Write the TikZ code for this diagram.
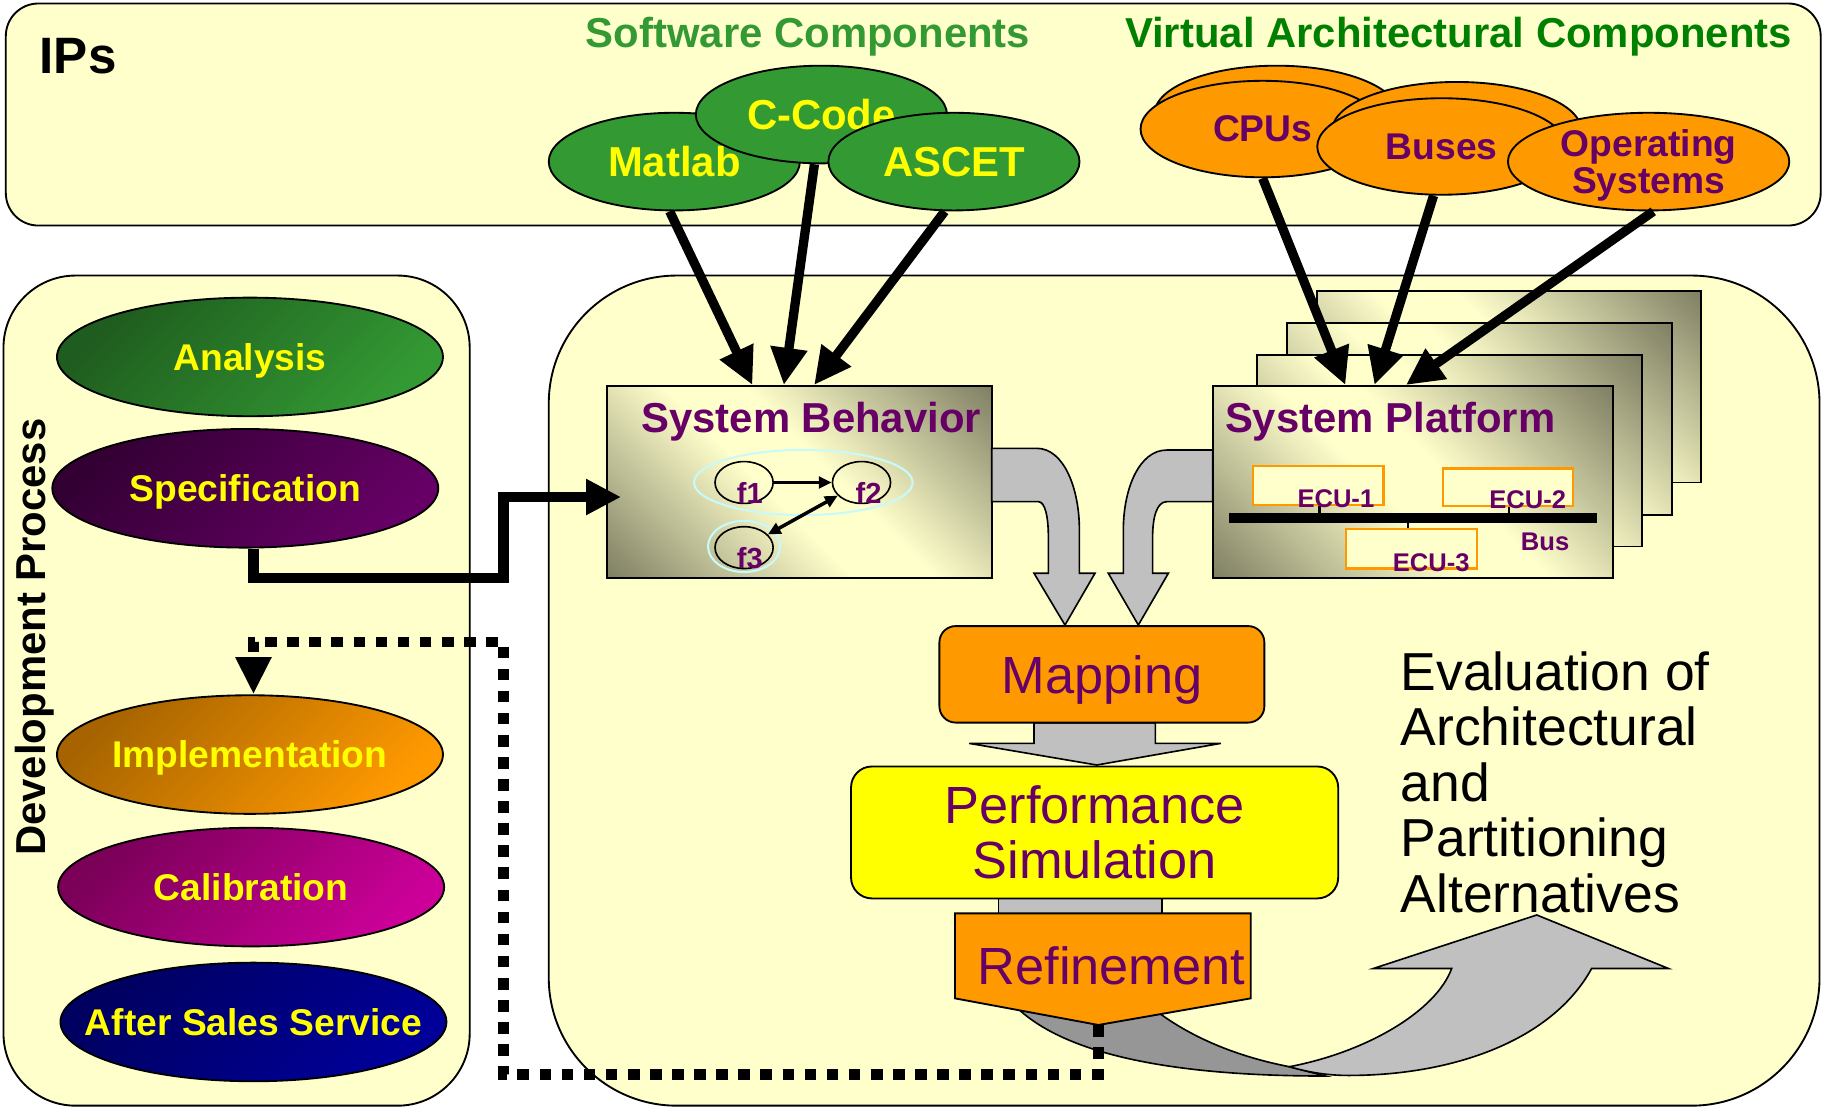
\documentclass[tikz,border=0pt]{standalone}
\usepackage{fontspec}
\setmainfont{Liberation Sans}
\usetikzlibrary{shapes.geometric,arrows.meta,calc}

\definecolor{paleyellow}{HTML}{FFFFCC}
\definecolor{swgreen}{HTML}{339933}
\definecolor{vagreen}{HTML}{008000}
\definecolor{plum}{HTML}{660066}
\definecolor{orng}{HTML}{FF9900}
\definecolor{gry}{HTML}{C0C0C0}
\definecolor{dgry}{HTML}{969696}
\definecolor{olivedk}{HTML}{74745A}
\definecolor{haloc}{HTML}{C8FAFA}
\definecolor{ylw}{HTML}{FFFF00}
\definecolor{calibdk}{HTML}{7A0058}
\definecolor{caliblt}{HTML}{CC0099}
\definecolor{assdk}{HTML}{000060}
\definecolor{asslt}{HTML}{000099}

\newcommand{\fsz}[1]{\fontsize{#1}{#1}\selectfont}

% panel gradient: dark at two opposite corners, light band across the middle
\pgfdeclareverticalshading{panelshade}{100bp}{color(0bp)=(olivedk); color(12bp)=(olivedk);
  color(45bp)=(paleyellow); color(55bp)=(paleyellow); color(88bp)=(olivedk); color(100bp)=(olivedk)}

\begin{document}
\begin{tikzpicture}[x=1pt,y=-1pt,
  box/.style={draw=black, line width=1.6pt, fill=paleyellow},
  lbl/.style={inner sep=0pt},
  sweli/.style={ellipse, draw, line width=1.6pt, fill=swgreen, text=ylw,
    font=\fsz{36}\bfseries, minimum width=216pt, minimum height=84pt, inner sep=0pt},
  vaeli/.style={ellipse, draw, line width=1.6pt, fill=orng, text=plum,
    font=\fsz{32}\bfseries, minimum height=83pt, inner sep=0pt},
  feed/.style={line width=8pt, -{Triangle[length=32pt,width=30pt]}},
  devel/.style 2 args={ellipse, draw, line width=1.6pt, minimum width=332pt,
    minimum height=102pt, text=ylw, font=\fsz{32}\bfseries, inner xsep=-40pt, inner ysep=0pt,
    text height=23pt, text depth=0pt,
    top color=#1, bottom color=#2, shading angle=45},
  panel/.style={draw, line width=1.6pt, shading=panelshade, shading angle=-45},
  fbub/.style={ellipse, draw, line width=1.4pt, minimum width=50pt,
    minimum height=36pt, inner sep=0pt},
  halo/.style={ellipse, draw=haloc, line width=1.8pt, inner sep=0pt},
  ftext/.style={text=plum, font=\fsz{25}\bfseries, inner sep=0pt},
  ecu/.style={draw=orng, line width=1.8pt, fill=paleyellow, inner sep=0pt,
    minimum width=112pt},
  ecutext/.style={text=plum, font=\fsz{22}\bfseries, inner sep=0pt},
  blockarrow/.style={fill=gry, draw, line width=1.4pt, line join=miter},
  bigtext/.style={text=plum, font=\fsz{45}, inner sep=0pt},
  dotline/.style={line width=9pt, dash pattern=on 10pt off 9pt,
    -{Triangle[length=32pt,width=29pt]}},
  elbow/.style={line width=9pt, line join=miter,
    -{Triangle[length=30pt,width=29pt]}}
]
\path[use as bounding box, fill=white] (0,0) rectangle (1568,953);

% ---- containers ----
\draw[box, rounded corners=28pt] (5,3) rectangle (1566,194);
\draw[box, rounded corners=62pt] (3,237) rectangle (404,951);
\draw[box, rounded corners=110pt] (472,237) rectangle (1565,951);

% ---- headings ----
\node[lbl, anchor=base west, font=\fsz{44}\bfseries] (ips) at (34,63) {IPs};
\node[lbl, anchor=base, text=swgreen, font=\fsz{36}\bfseries] (swc) at (695,41) {Software Components};
\node[lbl, anchor=base, text=vagreen, font=\fsz{36}\bfseries] (vac) at (1254.5,41) {Virtual Architectural Components};

% ---- development process ----
\node[lbl, rotate=90, font=\fsz{36}\bfseries] (devp) at (29.5,548) {Development Process};
\node[devel={black!40!swgreen}{swgreen}] (ana) at (215,307) {Analysis};
\node[devel={black!50!plum}{plum}] (spec) at (211,420) {Specification};
\node[devel={black!35!orng}{orng}] (impl) at (215,649) {Implementation};
\node[devel={calibdk}{caliblt}] (calib) at (216,763) {Calibration};
\node[devel={assdk}{asslt}] (ass) at (218,879) {After Sales Service};

% ---- system behavior ----
\node[panel, minimum width=331pt, minimum height=165pt, inner sep=0pt] (sb) at (687.5,414.5) {};
\node[lbl, anchor=base west, text=plum, font=\fsz{36}\bfseries] (sbt) at (551.5,372) {System Behavior};
\node[halo, minimum width=188pt, minimum height=56pt] (h12) at (691,415) {};
\node[halo, minimum width=62pt, minimum height=44pt] (h3) at (640,470) {};
\node[fbub] (f1) at (640,415) {};
\node[fbub] (f2) at (741,415) {};
\node[fbub] (f3) at (640,471) {};
\node[ftext] (f1t) at (645,424) {f1};
\node[ftext] (f2t) at (747,424) {f2};
\node[ftext] (f3t) at (645,480) {f3};
\draw[line width=3pt, -{Triangle[length=11pt,width=10pt]}] (f1) -- (f2);
\draw[line width=3pt, {Triangle[length=11pt,width=10pt]}-{Triangle[length=11pt,width=10pt]}] (f3) -- (f2);

% ---- system platform stack ----
\draw[panel] (1133,250) rectangle (1463,415);
\draw[panel] (1107,278) rectangle (1438,443);
\draw[panel] (1081,305) rectangle (1412,470);
\node[panel, minimum width=344pt, minimum height=165pt, inner sep=0pt] (sp) at (1215,414.5) {};
\node[lbl, anchor=base west, text=plum, font=\fsz{36}\bfseries] (spt) at (1053.5,372) {System Platform};
\node[ecu, minimum height=33pt] (ecu1) at (1134,417.5) {};
\node[ecu, minimum height=32pt] (ecu2) at (1297,419) {};
\node[ecu, minimum height=34pt] (ecu3) at (1214,472) {};
\coordinate (busL) at (1057,445.5);
\coordinate (busR) at (1374,445.5);
\draw[line width=8pt] (busL) -- (busR);
\draw[line width=2pt] (1135,0 |- ecu1.south) -- (1135,0 |- busL);
\draw[line width=2pt] (1298,0 |- ecu2.south) -- (1298,0 |- busL);
\draw[line width=2pt] (1211,0 |- busL) -- (1211,0 |- ecu3.north);
\node[ecutext] (e1t) at (1149,429) {ECU-1};
\node[ecutext] (e2t) at (1314,430) {ECU-2};
\node[ecutext] (e3t) at (1231,484) {ECU-3};
\node[ecutext] (bust) at (1329,466) {Bus};

% ---- software components ----
\node[sweli] (matlab) at (580,139) {Matlab};
\node[sweli] (ccode) at (706.5,98.5) {C-Code};
\node[sweli] (ascet) at (820.5,139) {ASCET};

% ---- virtual architectural components ----
\node[vaeli, minimum width=210pt] (cpusb) at (1098,98) {};
\node[vaeli, minimum width=210pt] (cpus) at (1086,111) {CPUs};
\node[vaeli, minimum width=214pt] (busesb) at (1253,112) {};
\node[vaeli, minimum width=214pt] (buses) at (1240,126) {Buses};
\node[vaeli, minimum width=242pt, minimum height=84pt] (os) at (1418,139) {};
\node[lbl, text=plum, font=\fsz{32}\bfseries, align=center] (ostext) at (1418,142.5) {Operating\\Systems};

% ---- feeds into behavior and platform ----
\draw[feed] ($(matlab.south)+(-4,0)$) -- ($(sb.north west)+(126,0)$);
\draw[feed] ($(ccode.south)+(-6,0)$) -- ($(sb.north west)+(153,0)$);
\draw[feed] ($(ascet.south)+(-8,0)$) -- ($(sb.north west)+(179,0)$);
\draw[feed] (cpus.south) -- ($(sp.north west)+(115,0)$);
\draw[feed] ($(buses.south)+(-7,0)$) -- ($(sp.north west)+(140,0)$);
\draw[feed] ($(os.south)+(4,0)$) -- ($(sp.north west)+(167,0)$);

% ---- specification to system behavior ----
\draw[elbow] ($(spec.south)+(7,0)$) |- (433,497) |- ($(sb.west)+(13,13)$);

% ---- evaluation loop (drawn under the refinement step) ----
\path[fill=dgry, draw, line width=1.4pt]
  (870,862) .. controls (905,900) and (985,925.5) .. (1140,925.5)
  -- (1109,917.5) .. controls (1060,908) and (1020,890) .. (990,866) -- cycle;
\path[blockarrow]
  (1109,917.5) .. controls (1175,905) and (1235,870) .. (1248.6,833)
  -- (1181.3,833) -- (1321.8,787) -- (1435,833) -- (1369,833)
  .. controls (1335,895) and (1250,925) .. (1160,925)
  .. controls (1140,925) and (1125,922) .. (1109,917.5) -- cycle;

% ---- flow arrows between the steps ----
\path[blockarrow] (858.7,770) rectangle (999.2,787);
\path[blockarrow] (889.4,621.6) -- (889.4,639.4) -- (833.7,639.4) -- (943.3,658)
  -- (1050,639.4) -- (993.7,639.4) -- (993.7,621.6) -- cycle;
\path[blockarrow] (853,385.6) -- (891.7,385.6) .. controls (915,385.6) and (928.4,420) .. (928.4,455.9)
  -- (928.4,493.1) -- (941.8,493.1) -- (916,537.6) -- (889.4,493.1) -- (901.7,493.1)
  -- (901.7,461.6) .. controls (901.7,445) and (899,431.5) .. (893.1,431.5) -- (853,431.5) -- cycle;
\path[blockarrow] (1043,387.1) -- (1003.5,387.1) .. controls (980,387.1) and (966.2,420) .. (966.2,455.9)
  -- (966.2,493.1) -- (953.3,493.1) -- (979.1,537.6) -- (1004.9,493.1) -- (991.4,493.1)
  -- (991.4,461.6) .. controls (991.4,445) and (995,431.5) .. (1003.5,431.5) -- (1043,431.5) -- cycle;

% ---- steps ----
\node[draw, line width=1.6pt, fill=orng, rounded corners=14pt, minimum width=279.5pt,
  minimum height=83pt, inner sep=0pt, bigtext, text height=33pt, text depth=0pt] (map) at (947.75,580) {Mapping};
\node[draw, line width=1.6pt, fill=ylw, rounded corners=18pt, minimum width=419pt,
  minimum height=113.5pt, inner sep=0pt, bigtext, align=center,
  font=\fontsize{45}{47.2}\selectfont] (perf) at (941.5,716) {Performance\\Simulation};
\draw[fill=orng, line width=1.6pt, line join=miter] (821.4,785.6) -- (1075.8,785.6) -- (1075.8,858.7)
  -- (944.7,881.6) coordinate (reftip) -- (821.4,858.7) -- cycle;
\node[bigtext] (refine) at (956,831) {Refinement};

\node[inner sep=0pt, anchor=north west, align=left, font=\fontsize{46}{47.8}\selectfont] (evalt)
  at (1204.5,560) {Evaluation of\\Architectural\\and\\Partitioning\\Alternatives};

% ---- feedback to implementation ----
\draw[dotline] (reftip) |- (433,924) |- (218,552) -- (218,0 |- impl.north);

\end{tikzpicture}
\end{document}
